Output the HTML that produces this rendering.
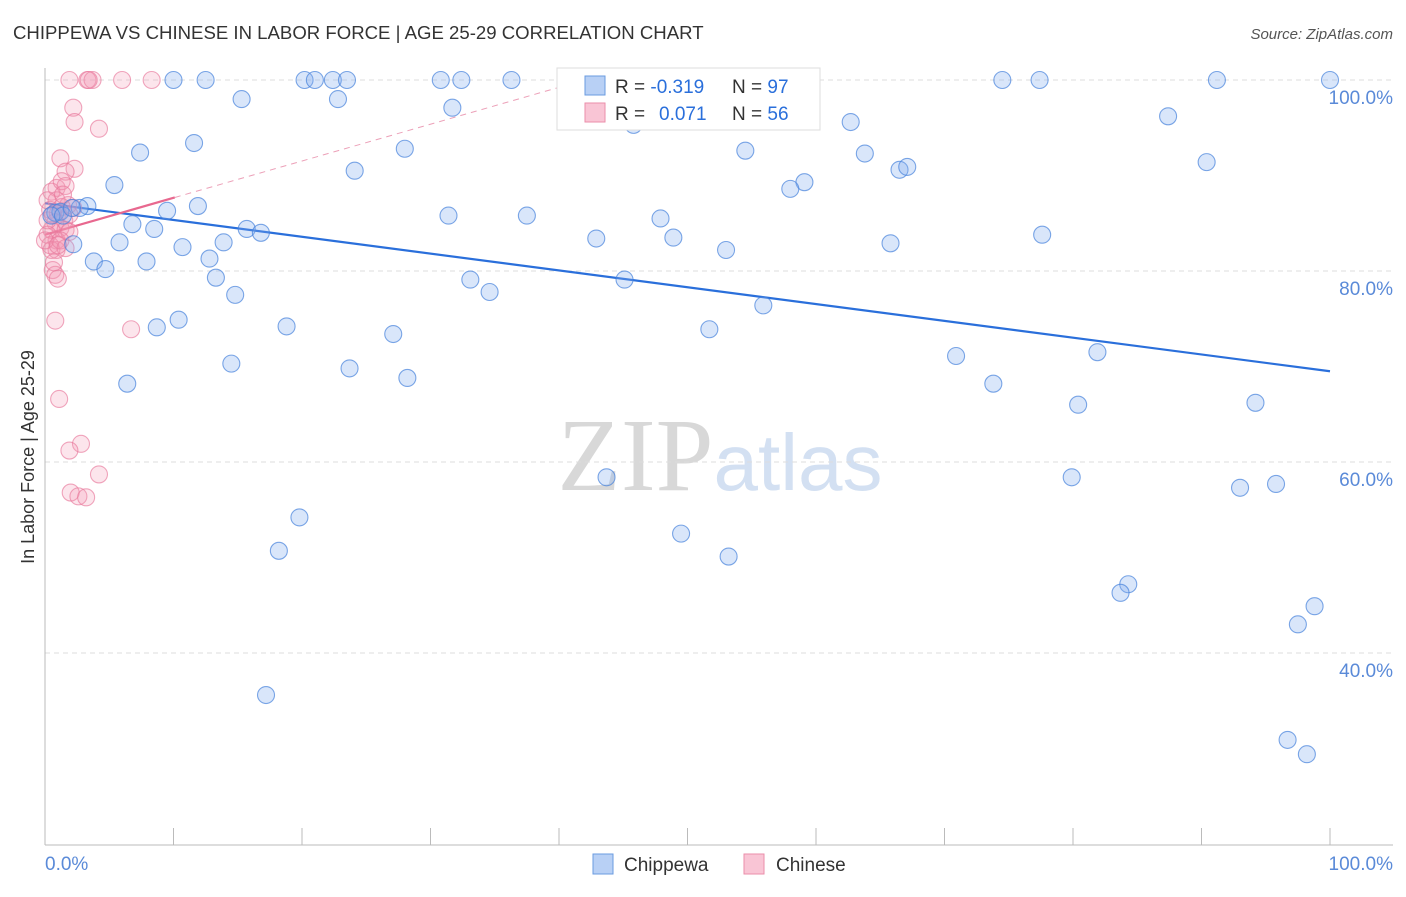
<!DOCTYPE html>
<html><head><meta charset="utf-8"><style>
body{margin:0;background:#fff;font-family:"Liberation Sans",sans-serif}
svg text{font-family:"Liberation Sans",sans-serif}
</style></head><body>
<svg id="chart" width="1406" height="892" viewBox="0 0 1406 892" xmlns="http://www.w3.org/2000/svg">
<text x="13" y="39" font-size="18.6" fill="#333">CHIPPEWA VS CHINESE IN LABOR FORCE | AGE 25-29 CORRELATION CHART</text>
<text x="1393" y="39" font-size="15" fill="#555" font-style="italic" text-anchor="end">Source: ZipAtlas.com</text>
<text x="720" y="490" font-size="104" text-anchor="middle" fill="#ddd"><tspan font-family="Liberation Serif" fill="#d8d8d8">ZIP</tspan><tspan fill="#d3e0f2" font-size="80">atlas</tspan></text>
<text transform="translate(34,457) rotate(-90)" font-size="18" fill="#333" text-anchor="middle">In Labor Force | Age 25-29</text>
<g id="grid"></g><g id="axes"></g><g id="trend"></g><g id="pts"></g>
<g>
<rect x="557" y="68" width="263" height="62" fill="#fff" stroke="#ddd"/>
<rect x="585" y="76" width="20" height="19" fill="#b8d0f5" stroke="#6a9be0"/>
<rect x="585" y="103" width="20" height="19" fill="#f9c5d5" stroke="#eb8eaa"/>
<text x="615" y="93" font-size="19" fill="#333">R = <tspan fill="#2a6fdb">-0.319</tspan><tspan x="732">N = </tspan><tspan fill="#2a6fdb">97</tspan></text>
<text x="615" y="120" font-size="19" fill="#333">R = <tspan x="659" fill="#2a6fdb">0.071</tspan><tspan x="732">N = </tspan><tspan fill="#2a6fdb">56</tspan></text>
</g>
<g>
<rect x="593" y="854" width="20" height="20" fill="#b8d0f5" stroke="#6a9be0"/>
<text x="624" y="871" font-size="19" fill="#333">Chippewa</text>
<rect x="744" y="854" width="20" height="20" fill="#f9c5d5" stroke="#eb8eaa"/>
<text x="776" y="871" font-size="19" fill="#333">Chinese</text>
</g>
</svg>
<script>
const yTicks=[100,80,60,40];
const xTickLabels=["0.0%","100.0%"];
const blueX=[10,12.5,20.2,21,22.4,23.5,30.8,32.4,36.3,49.9,74.5,77.4,91.2,100,15.3,22.8,31.7,62.7,45.8,87.4,11.6,7.4,28,54.5,63.8,90.4,24.1,66.5,67.1,5.4,59.1,58,3.3,2.7,9.5,11.9,31.4,37.5,47.9,6.8,15.7,16.8,8.5,5.8,2.2,10.7,13.9,42.9,48.9,77.6,65.8,53,3.8,7.9,12.8,4.7,13.3,33.1,45.1,34.6,14.8,55.9,10.4,8.7,18.8,51.7,27.1,81.9,70.9,14.5,23.7,6.4,28.2,73.8,80.4,94.2,43.7,79.9,93,95.8,19.8,49.5,18.2,53.2,84.3,83.7,98.8,97.5,17.2,96.7,98.2,0.8,1.2,0.5,1.4,2.1];
const blueY=[100,100,100,100,100,100,100,100,100,100,100,100,100,100,98,98,97.1,95.6,95.3,96.2,93.4,92.4,92.8,92.6,92.3,91.4,90.5,90.6,90.9,89,89.3,88.6,86.8,86.6,86.3,86.8,85.8,85.8,85.5,84.9,84.4,84,84.4,83,82.8,82.5,83,83.4,83.5,83.8,82.9,82.2,81,81,81.3,80.2,79.3,79.1,79.1,77.8,77.5,76.4,74.9,74.1,74.2,73.9,73.4,71.5,71.1,70.3,69.8,68.2,68.8,68.2,66,66.2,58.4,58.4,57.3,57.7,54.2,52.5,50.7,50.1,47.2,46.3,44.9,43,35.6,30.9,29.4,86.1,86.2,85.8,85.8,86.6];
const pinkX=[1.9,3.3,3.7,6,8.3,3.4,2.2,2.3,4.2,1.2,2.3,1.6,0.9,1.6,0.5,1.3,0.9,1.8,2.2,0.4,1,1.5,1.9,0.8,1.2,0.5,1.6,0.2,0.9,0.4,0.9,0.5,0.6,0.8,1,0.8,6.7,1.1,2.8,1.9,4.2,2,2.6,3.2,0.2,0.2,1.3,1.9,0.7,1.4,0,1.2,1.6,0.6,1];
const pinkY=[100,100,100,100,100,100,97.1,95.6,94.9,91.8,90.7,90.4,88.7,88.9,88.3,89.4,87.4,86.9,86.6,86.4,86,85.3,85.9,85.1,84.5,84.3,84.3,83.8,83.2,82.7,82.2,82.2,80.1,79.6,79.2,74.8,73.9,66.6,61.9,61.2,58.7,56.8,56.4,56.3,87.4,85.3,86.7,84.1,80.9,88,83.2,83.2,82.4,85.9,82.7];
const blueTrend=[[0,87.1],[100,69.5]];
const pinkTrend=[[0,83.8],[10.1,87.7]];
const pinkDash=[[10.1,87.7],[42,100]];
const NS="http://www.w3.org/2000/svg";
const X=v=>45+v*12.85, Y=v=>80+(100-v)*9.55;
function mk(tag,attrs,parent){const e=document.createElementNS(NS,tag);for(const k in attrs)e.setAttribute(k,attrs[k]);document.getElementById(parent).appendChild(e);return e;}
yTicks.forEach(t=>{
 const l=mk('line',{x1:45,x2:1393,y1:Y(t),y2:Y(t),stroke:'#ddd','stroke-dasharray':'5,4'},'grid');
 
 
 const tx=mk('text',{x:1393,y:Y(t)+24,'font-size':19,fill:'#5a8ad8','text-anchor':'end'},'grid');
 tx.textContent=t.toFixed(1)+'%';
 
 
});
let ax=mk('line',{x1:45,x2:45,y1:68,y2:845,stroke:'#bbb'},'axes');


ax=mk('line',{x1:45,x2:1393,y1:845,y2:845,stroke:'#bbb'},'axes');


for(let i=1;i<=10;i++){const t=mk('line',{x1:X(i*10),x2:X(i*10),y1:828,y2:845,stroke:'#bbb'},'axes');
 
 }
let xl=mk('text',{x:45,y:870,'font-size':19,fill:'#5a8ad8'},'axes');xl.textContent=xTickLabels[0];


xl=mk('text',{x:1393,y:870,'font-size':19,fill:'#5a8ad8','text-anchor':'end'},'axes');xl.textContent=xTickLabels[1];


pinkX.forEach((v,i)=>{const c=mk('circle',{cx:X(v),cy:Y(pinkY[i]),r:8.5,fill:'rgba(244,150,178,0.25)',stroke:'rgba(232,120,155,0.65)','stroke-width':1.1},'pts');
 
 });
blueX.forEach((v,i)=>{const c=mk('circle',{cx:X(v),cy:Y(blueY[i]),r:8.5,fill:'rgba(130,172,238,0.3)',stroke:'rgba(70,130,220,0.7)','stroke-width':1.1},'pts');
 
 });
let tl=mk('line',{x1:X(blueTrend[0][0]),y1:Y(blueTrend[0][1]),x2:X(blueTrend[1][0]),y2:Y(blueTrend[1][1]),stroke:'#2a6fdb','stroke-width':2.2},'trend');


tl=mk('line',{x1:X(pinkTrend[0][0]),y1:Y(pinkTrend[0][1]),x2:X(pinkTrend[1][0]),y2:Y(pinkTrend[1][1]),stroke:'#e8688f','stroke-width':2.2},'trend');


tl=mk('line',{x1:X(pinkDash[0][0]),y1:Y(pinkDash[0][1]),x2:X(pinkDash[1][0]),y2:Y(pinkDash[1][1]),stroke:'#eca0b8','stroke-width':1,'stroke-dasharray':'6,5'},'trend');


</script>
</body></html>
